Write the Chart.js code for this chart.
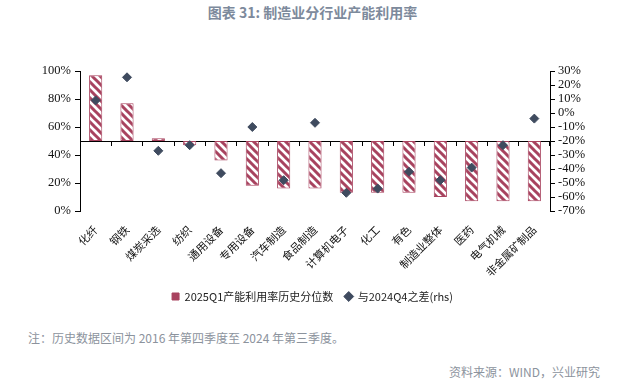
<!DOCTYPE html>
<html><head><meta charset="utf-8">
<script src="https://cdn.jsdelivr.net/npm/chart.js@4.4.1/dist/chart.umd.min.js"></script>
<style>
html,body{margin:0;padding:0;background:#fff;width:625px;height:382px;overflow:hidden;}
#title{position:absolute;left:0;width:625px;top:2px;text-align:center;font-family:"Noto Sans CJK SC",sans-serif;font-weight:bold;font-size:14px;color:#7D8A9C;}
#wrap{position:absolute;left:0;top:0;width:625px;height:312px;}
#note{position:absolute;left:28px;top:329px;font-family:"Noto Sans CJK SC",sans-serif;font-size:12px;color:#8C939D;}
#src{position:absolute;right:25px;top:363px;font-family:"Noto Sans CJK SC",sans-serif;font-size:12px;color:#8C939D;}
</style></head>
<body>
<div id="title">图表 31: 制造业分行业产能利用率</div>
<div id="wrap"><canvas id="c"></canvas></div>
<div id="note">注：历史数据区间为 2016 年第四季度至 2024 年第三季度。</div>
<div id="src">资料来源：WIND，兴业研究</div>
<script>
const categories = ["化纤","钢铁","煤炭采选","纺织","通用设备","专用设备","汽车制造","食品制造","计算机电子","化工","有色","制造业整体","医药","电气机械","非金属矿制品"];
const percentileValues = [97,77,52,47,36,18,16,16,13,13,13,10,7,7,7];
const diffValues = [9,25.5,-27,-23,-43,-10,-48,-7,-57,-54,-42,-48,-39,-23,-4];
const seriesNames = ["2025Q1产能利用率历史分位数","与2024Q4之差(rhs)"];
const leftTicks = [0,20,40,60,80,100];
const rightTicks = [-70,-60,-50,-40,-30,-20,-10,0,10,20,30];

const RED = '#A8435F';
const NAVY = '#3F4B5F';
function makePattern(){
  const p = document.createElement('canvas');
  p.width = 8; p.height = 8;
  const g = p.getContext('2d');
  g.fillStyle = '#fff'; g.fillRect(0,0,8,8);
  g.strokeStyle = RED; g.lineWidth = 3;
  g.beginPath();
  g.moveTo(-2,-2); g.lineTo(10,10);
  g.moveTo(-6,2); g.lineTo(2,10);
  g.moveTo(6,-2); g.lineTo(14,6);
  g.stroke();
  return g.createPattern(p,'repeat');
}
const pattern = makePattern();

new Chart(document.getElementById('c'), {
  type: 'bar',
  data: {
    labels: categories,
    datasets: [
      {
        type: 'line',
        label: seriesNames[1],
        data: diffValues,
        yAxisID: 'y1',
        showLine: false,
        pointStyle: 'rectRot',
        pointRadius: 4.5,
        pointBackgroundColor: NAVY,
        pointBorderColor: NAVY,
        backgroundColor: NAVY,
        borderColor: NAVY,
        order: 0
      },
      {
        label: seriesNames[0],
        data: percentileValues,
        yAxisID: 'y',
        base: 50,
        backgroundColor: pattern,
        borderColor: RED,
        borderWidth: 1,
        borderSkipped: false,
        barPercentage: 0.42,
        categoryPercentage: 1,
        pointStyle: 'rect',
        order: 1
      }
    ]
  },
  options: {
    responsive: true,
    maintainAspectRatio: false,
    animation: false,
    layout: { padding: { top: 71, left: 0, right: 0, bottom: 0 } },
    plugins: {
      tooltip: { enabled: false },
      legend: {
        position: 'bottom',
        reverse: true,
        labels: {
          usePointStyle: true,
          boxWidth: 7, boxHeight: 7,
          padding: 12,
          color: '#222',
          font: { family: '"Noto Sans CJK SC", sans-serif', size: 11 },
          generateLabels(chart){
            const items = Chart.defaults.plugins.legend.labels.generateLabels(chart);
            items.forEach(it => {
              if (it.datasetIndex === 1) { it.fillStyle = RED; it.strokeStyle = RED; }
              else { it.fillStyle = NAVY; it.strokeStyle = NAVY; }
            });
            return items;
          }
        }
      }
    },
    scales: {
      x: {
        type: 'category',
        position: 'bottom',
        offset: true,
        grid: { display: false, drawTicks: false },
        border: { display: false },
        ticks: {
          autoSkip: false,
          minRotation: 45, maxRotation: 45,
          padding: 12,
          color: '#111',
          font: { family: '"Noto Sans CJK SC", sans-serif', size: 11 }
        },
        afterFit(s){ s.height = 68; }
      },
      x2: {
        type: 'category',
        position: { y: 50 },
        offset: true,
        grid: { offset: true, drawOnChartArea: false, drawTicks: true, tickLength: 4, color: '#000', lineWidth: 1 },
        border: { display: true, color: '#000', width: 1 },
        ticks: { display: false }
      },
      y: {
        type: 'linear',
        position: 'left',
        min: 0, max: 100,
        afterBuildTicks(s){ s.ticks = leftTicks.map(v => ({ value: v })); },
        grid: { drawOnChartArea: false, drawTicks: true, tickLength: 5, color: '#000' },
        border: { display: true, color: '#000', width: 1 },
        ticks: {
          autoSkip: false,
          padding: 4,
          color: '#111',
          font: { family: '"Liberation Serif", serif', size: 12.5 },
          callback: v => v + '%'
        },
        afterFit(s){ s.width = 80; }
      },
      y1: {
        type: 'linear',
        position: 'right',
        min: -70, max: 30,
        afterBuildTicks(s){ s.ticks = rightTicks.map(v => ({ value: v })); },
        grid: { drawOnChartArea: false, drawTicks: true, tickLength: 5, color: '#000' },
        border: { display: true, color: '#000', width: 1 },
        ticks: {
          autoSkip: false,
          padding: 3,
          color: '#111',
          font: { family: '"Liberation Serif", serif', size: 12.5 },
          callback: v => v + '%'
        },
        afterFit(s){ s.width = 75; }
      }
    }
  }
});
</script>
</body></html>
